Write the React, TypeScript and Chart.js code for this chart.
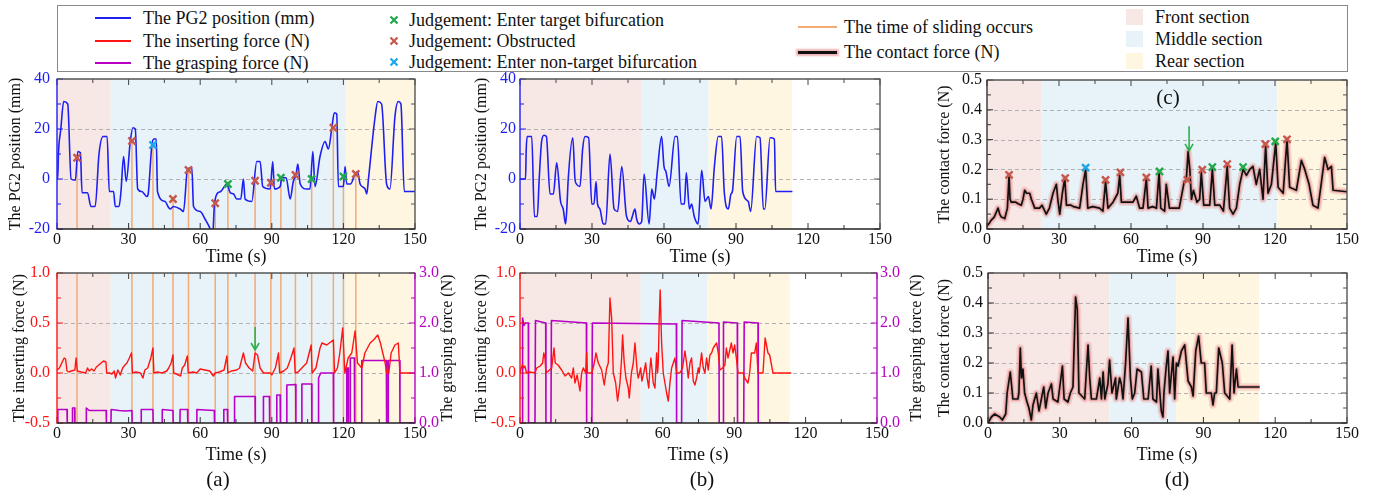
import React, { useEffect, useRef } from "react";
import { Chart, registerables } from "chart.js";
Chart.register(...registerables);

const W = 1375;
const H = 496;
const FONT = "'Liberation Serif','Times New Roman',Times,serif";
Chart.defaults.font.family = FONT;
Chart.defaults.font.size = 16;
Chart.defaults.color = "#111";

type P = [number, number][];

const C = {
  blue: "#1f1ff2",
  red: "#ff1414",
  magenta: "#b800c6",
  orange: "#f3aa74",
  green: "#22a94c",
  brick: "#c6574b",
  cyan: "#1aa8e8",
  black: "#111111",
  arrow: "#2cb14c",
  front: "rgb(247,232,230)",
  middle: "rgb(231,243,248)",
  rear: "rgb(254,246,225)",
};

// ---------- tick labels ----------
const timeTicks = [0, 30, 60, 90, 120, 150];
const pgTicks = [-20, 0, 20, 40];
const insTicks = [-0.5, 0, 0.5, 1];
const graspTicks = [0, 1, 2, 3];
const contactTicks = [0, 0.1, 0.2, 0.3, 0.4, 0.5];

// ---------- sections ----------
const sectionNames = ["Front section", "Middle section", "Rear section"];
const sectionColors = [C.front, C.middle, C.rear];
const sectionsAC = [0, 22.5, 121, 150];
const sectionsBD = [0, 50.7, 78.6, 113.3];

// ---------- (a) PG2 position ----------
const pgA: P = [[0,0],[0.3,0],[0.6,10],[1.6,20],[2.8,31],[4.5,30],[5.9,0],[7.7,-0.5],[8.7,11],[9.8,10.5],[10.5,-5.5],[12.8,-5.5],[14.2,-11],[16,-11],[17.6,10],[19.3,17],[21,17],[21.9,-5],[23.7,-5],[24.4,-11],[26,-11],[26.8,-5],[27.9,9],[29,-1],[30.7,15],[31.8,20.5],[32.8,20],[33.8,-4],[35.5,-5],[37.7,-7],[38.2,-6],[39.8,14],[40.7,16],[41.6,16],[42.1,-5],[45.3,-9],[46.5,-11],[47.4,-12],[48.8,-11],[51.6,-12],[53,-13],[54.7,4],[56.5,4.5],[57.2,-11],[60,-13],[62,-16],[64.2,-20],[65.2,-23],[65.9,-11],[67,-6],[68.6,-5],[71.2,-2],[72.6,-5.5],[74,-6],[75.3,-8],[77,-8],[78.1,0],[78.8,-8],[81.6,-9],[83.7,7],[85.1,7],[86.2,-3],[89.3,-4],[90.4,7],[91.1,-4],[93.5,-3],[94.2,0.5],[96,0.5],[97.7,-8],[99,-1],[100.2,2],[100.9,6],[101.9,-2],[104.6,-4],[106,-4],[107.2,11],[108.1,-3],[110.2,9],[112.3,15],[113.7,12],[115.1,20],[116.2,26.5],[117.2,26],[117.9,-3],[120,-3],[120.7,5],[121.4,-2],[123,-2],[124.9,2],[125.9,3],[127,-2],[129.1,-4],[129.8,-6],[130.5,0],[133.3,25],[134.4,31],[136,30],[138.1,-2],[139.5,-4],[141.6,25],[143,31],[144.1,30],[145.5,-5],[150,-5]];

const obstructedA: P = [[8.4,8.5],[31.4,15.2],[48.6,-8],[55.1,3.6],[66.3,-9.7],[83,-0.7],[89.6,-1.5],[99.9,1.6],[115.8,20.5],[125.2,2]];
const targetA: P = [[71.6,-2],[93.8,0.5],[106.7,0],[120,1]];
const nonTargetA: P = [[40.2,13.6]];

// ---------- (a) forces ----------
const insA: P = [[0,0.03],[1,0.05],[2,0.1],[3,0.15],[3.6,0.14],[4.2,0.02],[5,0.01],[6,0.02],[7.5,0.03],[8,0.15],[8.5,0.02],[10,0.01],[12,0],[12.8,0.05],[13.5,0.02],[14.5,0.04],[15.5,0.02],[16.5,0.06],[17.5,0.08],[18.5,0.1],[19.5,0.12],[20.5,0.11],[20.8,0],[22,0],[23,-0.01],[24,0.02],[24.5,-0.05],[25.5,0.03],[26.5,-0.02],[27.5,0.05],[28.5,0.08],[29.3,0.1],[30.3,0.15],[31.2,0.2],[31.6,0],[33,0.01],[35,0],[36,-0.05],[36.8,0.03],[38,0.05],[39.3,0.15],[40.2,0.25],[40.6,0],[42,0.01],[44,0],[46,0.02],[46.8,0.05],[47.8,0.1],[48.6,0.18],[48.9,0],[50,-0.01],[51.8,-0.03],[52.5,0.05],[53.5,0.08],[54.6,0.17],[55,0],[57,0.01],[58.5,0],[60,0.04],[62,0.03],[64,0.02],[65.5,-0.03],[66.3,0],[68,0.01],[70,0.03],[71.2,0.17],[71.6,0],[73,0.02],[75.3,0.03],[76.5,0.05],[78.1,0.2],[79,0.1],[80.5,0.05],[82,0.02],[83,0.2],[84,0.18],[85.1,0.05],[86.5,0],[88,0],[89.5,0],[90,-0.02],[91.5,0.05],[92.8,0.2],[93.3,0],[95,0.02],[96.5,0.05],[98,0.15],[99.3,0.25],[99.8,0],[101,0.01],[102.6,0.05],[104.6,0.1],[106.5,0.28],[106.9,0],[108.5,0.05],[110.2,0.25],[111,0.3],[113,0.28],[115.8,0.33],[116.3,0],[117.5,0.05],[118.5,0.2],[119.7,0.45],[120.6,0],[122,0.15],[123.5,0.2],[124.9,0.42],[125.9,0.1],[127.7,0.05],[129,0.2],[131.2,0.3],[132.6,0.33],[134.4,0.38],[135.5,0.3],[137.5,0.1],[138.1,0],[139,0],[140,0.2],[141.6,0.28],[143,0.3],[143.7,0],[150,0]];

const graspA: P = [[0,0],[0.3,0],[0.4,0.27],[4.2,0.27],[4.3,0],[6.3,0],[6.5,0.3],[7.4,0.3],[7.5,0],[12.2,0],[12.3,0.3],[13.5,0.25],[20.6,0.25],[20.7,0],[22.6,0],[22.7,0.27],[26,0.25],[28.5,0.24],[31.4,0.25],[31.5,0],[35.2,0],[35.3,0.27],[40.2,0.27],[40.3,0],[44,0],[44.1,0.27],[48.6,0.25],[48.7,0],[51.5,0],[51.6,0.27],[54.7,0.27],[54.8,0],[58.5,0],[58.6,0.27],[65.9,0.25],[66,0],[69.8,0],[69.9,0.27],[71.4,0.27],[71.5,0],[74.3,0],[74.4,0.53],[83,0.53],[83.1,0],[86.4,0],[86.5,0.53],[89,0.53],[89.1,0],[92,0],[92.1,0.56],[93.5,0.56],[93.6,0],[96.2,0],[96.3,0.76],[100,0.77],[100.1,0],[102.5,0],[102.6,0.78],[106.7,0.78],[106.8,0],[109.4,0],[109.6,0.9],[110.5,1.0],[115.8,1.0],[115.9,0],[121.3,0],[121.4,1.1],[122,1.1],[122.1,0],[122.8,0],[122.9,1.3],[124.6,1.3],[124.7,0],[127.6,0],[127.7,1.25],[138,1.25],[138.1,0],[138.7,0],[138.8,1.25],[143.6,1.25],[143.7,0],[150,0]];

const arrowA = { x: 83, from: 0.46, to: 0.23 };

// ---------- (b) PG2 position ----------
const pgB: P = [[0,0],[2.3,0],[2.6,12],[3,17],[4.9,17],[6,-15],[7.2,-15],[8,0],[9,15],[10,17.5],[11,17],[12.5,-6],[13.9,-6],[15.3,6.5],[16.9,-9],[18,-12],[19,-18],[19.5,-12],[20.1,0],[22,16.5],[22.9,0],[23.5,-2],[25,-3],[26.1,12],[27.1,17],[28.6,16.5],[29.9,-10],[30.8,-10],[31.7,-1],[32.3,-10],[33.3,-12],[34.7,-18],[35.7,-18],[37.5,10],[39.2,-12],[40.7,-13],[42.4,5],[44.4,-15],[46.1,-17],[46.8,-15],[47.9,-12],[48.6,-16],[49.7,-18],[50.7,-17],[51.7,2],[53.8,-18],[54.9,-4],[56,-8],[57.2,3],[59,17],[60,5],[60.8,3],[62.1,-3],[64.6,17],[65.6,17],[67.1,-10],[68.5,-10],[69.3,2.5],[70.6,-12],[71.5,-10],[72.6,-15],[74.2,-18],[75.7,3.5],[77.1,-9],[78.5,-7],[79.6,-12],[81,5],[82.6,17],[84,17],[85.1,-5],[86.8,-12],[87.9,-6],[88.5,-5],[90.3,17],[91.7,17],[92.8,-5],[95.1,-9],[96.1,-13],[98.6,17],[100,16.5],[101.4,-12],[102,-12],[104.2,16.5],[106,16],[106.5,-5],[113.5,-5]];

// ---------- (b) forces ----------
const insB: P = [[0,0],[0.5,0.05],[1,0.08],[1.5,0.05],[2,0.07],[2.8,0],[4,0.01],[6.3,0],[7,0.05],[8.5,0.07],[9.5,0.1],[10,0.2],[10.5,0.15],[10.9,0],[12,0.02],[13.3,0.05],[14.3,0.25],[14.8,0.1],[16,0.08],[17.5,0.03],[18.9,-0.03],[20.3,0],[21.7,-0.05],[22.4,0.05],[23.1,-0.1],[24,-0.02],[25.2,-0.18],[25.9,0],[26.6,0.05],[27.6,0],[28,0.2],[28.3,0],[30.2,0],[31.2,0.1],[31.9,0.2],[32.9,0.1],[34.3,0.03],[35.4,-0.12],[36.4,0.05],[37.1,0.1],[37.8,0.75],[38.5,0.55],[39.2,0],[40.2,-0.1],[41,-0.28],[42,-0.1],[42.7,0.15],[43.1,0.38],[43.8,0.1],[44.5,-0.05],[45.5,-0.15],[45.9,-0.25],[46.8,0],[47.6,0.1],[48.3,0.3],[49.3,0],[49.7,-0.05],[50.7,0.05],[51.2,-0.08],[52,0],[52.8,0.1],[53.4,-0.05],[54.1,-0.15],[54.6,0.05],[55,0.15],[56,-0.1],[56.7,-0.15],[57.4,0.2],[57.8,0],[58.1,0.1],[58.5,0.55],[58.9,0.83],[59.5,0.3],[60.2,0],[60.9,-0.1],[61.6,-0.2],[62.3,-0.28],[63,-0.1],[63.7,0.05],[65.1,0.15],[65.8,0],[67.2,0],[68.3,0.05],[69.3,0.22],[70,0.1],[70.7,-0.05],[71.4,0.1],[72.1,0.15],[72.8,-0.08],[73.5,-0.12],[74.2,-0.05],[74.9,0.05],[75.3,0],[76.3,0.2],[77,0.05],[77.7,0],[78.4,0.15],[79.1,0.03],[79.8,0.18],[80.5,0.2],[81.2,0.25],[82.6,0.3],[83.3,0.2],[84,0.03],[85.1,0.05],[86.1,0.08],[86.7,0.25],[87.4,0.15],[88.8,0.3],[89.5,0.2],[90.2,0.28],[90.9,0.15],[91.6,0],[93.7,0],[94.4,-0.05],[95.8,-0.1],[96.5,0],[97.2,0.2],[98.6,0.2],[99.3,0.3],[100,0],[102.1,0],[103,0.35],[104.2,0.2],[104.9,0.18],[106.3,0],[114,0]];

const graspB: P = [[0,0],[1,0],[1.1,2.1],[1.6,1.95],[2.2,2.0],[3.5,2.0],[3.6,0],[6.3,0],[6.5,2.05],[10.8,2.0],[10.9,0],[13,0],[13.2,2.05],[27.9,2.0],[28,0],[30.2,0],[30.4,2.0],[65.7,1.98],[65.8,0],[67.9,0],[68.1,2.05],[83.6,2.0],[83.7,0],[85.3,0],[85.5,2.02],[91.3,2.0],[91.4,0],[94,0],[94.2,2.02],[100,2.0],[100.1,0],[113,0]];

// ---------- (c) contact force ----------
const contactC: P = [[0,0.01],[1,0.02],[1.8,0.03],[3,0.04],[4.6,0.07],[5.3,0.05],[6,0.04],[7.4,0.035],[8.5,0.07],[9.2,0.18],[9.6,0.1],[10.1,0.09],[12,0.09],[13,0.085],[14.3,0.08],[15,0.1],[15.7,0.13],[16.5,0.12],[17.8,0.12],[18.5,0.1],[19.9,0.07],[21.9,0.07],[22.9,0.08],[23.5,0.07],[24.7,0.05],[26,0.07],[27.5,0.12],[28.9,0.15],[29.5,0.1],[30.3,0.05],[31.4,0.12],[32.4,0.17],[33.1,0.08],[35,0.08],[36,0.075],[38.6,0.07],[40,0.15],[41.1,0.2],[42,0.07],[44,0.075],[46.9,0.07],[48.3,0.06],[49.4,0.16],[50.4,0.07],[52.5,0.09],[54.5,0.12],[55.3,0.18],[56,0.09],[58,0.09],[60.8,0.09],[62.2,0.11],[63.6,0.07],[65,0.07],[66.4,0.17],[67.1,0.07],[69,0.075],[70.6,0.07],[71.7,0.19],[72.4,0.07],[74,0.06],[74.7,0.15],[76,0.07],[78,0.07],[80.1,0.07],[82.2,0.16],[83,0.16],[83.8,0.26],[84.5,0.2],[85.2,0.1],[86,0.13],[87.5,0.09],[88.6,0.1],[89.3,0.19],[90.3,0.08],[92.8,0.08],[93.9,0.2],[94.9,0.08],[97,0.08],[98.5,0.06],[100.1,0.21],[101.1,0.07],[102.5,0.05],[103.9,0.07],[105.3,0.15],[106.7,0.2],[108.1,0.18],[109.5,0.2],[110.8,0.21],[112.2,0.15],[113.6,0.2],[115,0.1],[116.1,0.28],[117.1,0.12],[118.5,0.15],[120.3,0.29],[121.3,0.14],[123.4,0.12],[125,0.3],[126.1,0.14],[128.9,0.13],[131,0.23],[132.4,0.2],[134.2,0.15],[135.8,0.08],[137.9,0.07],[138.9,0.13],[140.7,0.24],[142.1,0.2],[143.5,0.21],[144.2,0.13],[150,0.125]];

const obstructedC: P = [[9.2,0.182],[32.6,0.171],[49.4,0.165],[55.6,0.19],[66.4,0.173],[83.5,0.165],[89.7,0.199],[100.1,0.218],[116,0.285],[125,0.301]];
const targetC: P = [[71.9,0.193],[93.9,0.208],[106.7,0.208],[120.1,0.294]];
const nonTargetC: P = [[41.1,0.206]];
const arrowC = { x: 84.2, from: 0.345, to: 0.262 };

// ---------- (d) contact force ----------
const contactD: P = [[0,0],[1.4,0.02],[2.8,0.03],[4.9,0.02],[6,0.01],[7.4,0.03],[8,0.1],[9.3,0.17],[10.4,0.08],[12.5,0.08],[12.9,0.1],[13.5,0.25],[14,0.15],[14.6,0.18],[15.3,0.1],[16.3,0.07],[17.1,0.05],[18.1,0.01],[18.8,0.06],[20.2,0.1],[21.3,0.04],[22.3,0.08],[23.3,0.12],[24.1,0.05],[25.1,0.1],[26.5,0.13],[27.2,0.08],[29.2,0.07],[31.1,0.19],[31.8,0.08],[33.4,0.07],[34.4,0.1],[35.5,0.12],[36.6,0.42],[37.3,0.38],[38,0.1],[40.4,0.08],[41.8,0.26],[42.5,0.15],[43.2,0.08],[45.3,0.08],[46.7,0.15],[47.4,0.08],[48.1,0.17],[48.8,0.08],[50.1,0.13],[50.8,0.21],[51.8,0.1],[53.3,0.15],[53.6,0.08],[55,0.15],[55.7,0.13],[56.4,0.08],[57.5,0.2],[58.5,0.35],[59.5,0.15],[60.3,0.08],[61.3,0.1],[62.3,0.18],[64.1,0.17],[65.1,0.08],[66.9,0.08],[68.2,0.19],[68.9,0.08],[70.4,0.07],[71,0.18],[72.4,0.04],[73.1,0.02],[73.5,0.1],[74.5,0.19],[75.2,0.24],[75.9,0.1],[77.3,0.22],[78,0.08],[78.7,0.2],[79.4,0.19],[80.8,0.24],[82.2,0.26],[83.6,0.14],[85,0.12],[85.7,0.09],[86.8,0.24],[88,0.29],[89.1,0.2],[90.5,0.2],[91.2,0.1],[93.3,0.1],[94,0.06],[94.7,0.1],[95.4,0.1],[96.4,0.25],[97.9,0.2],[98.9,0.1],[101,0.08],[102,0.26],[102.8,0.1],[103.8,0.18],[104.5,0.12],[113.5,0.12]];

// ---------- helpers ----------
const pts = (p: P) => p.map(([x, y]) => ({ x, y }));
const line = (p: P, color: string, width: number, yAxisID = "y", smooth = false) => ({
  type: "line",
  data: pts(p),
  borderColor: color,
  borderWidth: width,
  pointRadius: 0,
  tension: smooth ? 0.4 : 0,
  cubicInterpolationMode: smooth ? "monotone" : "default",
  yAxisID,
  borderJoinStyle: "round",
});
const marks = (p: P, color: string) => ({
  type: "line",
  data: pts(p),
  showLine: false,
  pointStyle: "crossRot",
  pointRadius: 5,
  borderColor: color,
  backgroundColor: color,
  pointBorderWidth: 2.4,
  borderWidth: 2.4,
});
const glowSet = (p: P) => [
  line(p, C.black, 1.7),
  line(p, "rgba(226,128,128,0.55)", 4.2),
  line(p, "rgba(236,160,160,0.35)", 7.5),
];

type Axis = { ticks: number[]; color: string; pad: number; fmt: (v: number) => string };
type Txt = { text: string; x: number; y: number; size?: number; rot?: boolean; color?: string };
type Spec = {
  area: { l: number; t: number; r: number; b: number };
  yl: Axis;
  yr?: Axis;
  sections: number[];
  datasets: any[];
  stems?: P;
  full?: number[];
  arrows?: { x: number; from: number; to: number }[];
  texts: Txt[];
};

const panelPlugin = {
  id: "panel",
  beforeDraw(chart: any) {
    const o = chart.options.plugins.panel;
    const { ctx, chartArea: a } = chart;
    const x = chart.scales.x;
    const y = chart.scales.y;
    ctx.save();
    ctx.beginPath();
    ctx.rect(a.left, a.top, a.right - a.left, a.bottom - a.top);
    ctx.clip();
    for (let i = 0; i < o.sections.length - 1; i++) {
      const x0 = x.getPixelForValue(o.sections[i]);
      const x1 = x.getPixelForValue(o.sections[i + 1]);
      ctx.fillStyle = sectionColors[i];
      ctx.fillRect(x0, a.top, x1 - x0, a.bottom - a.top);
    }
    ctx.setLineDash([4, 3]);
    ctx.strokeStyle = "#a9a9a9";
    ctx.lineWidth = 0.9;
    y.ticks.forEach((t: any) => {
      if (t.value > y.min + 1e-9 && t.value < y.max - 1e-9) {
        const py = Math.round(y.getPixelForValue(t.value)) + 0.5;
        ctx.beginPath();
        ctx.moveTo(a.left, py);
        ctx.lineTo(a.right, py);
        ctx.stroke();
      }
    });
    ctx.setLineDash([]);
    ctx.strokeStyle = C.orange;
    ctx.lineWidth = 1.5;
    (o.stems || []).forEach(([t, v]: [number, number]) => {
      const px = x.getPixelForValue(t);
      ctx.beginPath();
      ctx.moveTo(px, a.bottom);
      ctx.lineTo(px, y.getPixelForValue(v));
      ctx.stroke();
    });
    (o.full || []).forEach((t: number) => {
      const px = x.getPixelForValue(t);
      ctx.beginPath();
      ctx.moveTo(px, a.bottom);
      ctx.lineTo(px, a.top);
      ctx.stroke();
    });
    ctx.restore();
  },
  afterDraw(chart: any) {
    const o = chart.options.plugins.panel;
    const { ctx, chartArea: a } = chart;
    const x = chart.scales.x;
    const y = chart.scales.y;
    const y2 = chart.scales.y2;
    ctx.save();
    ctx.strokeStyle = C.arrow;
    ctx.lineWidth = 1.6;
    (o.arrows || []).forEach((ar: any) => {
      const px = x.getPixelForValue(ar.x);
      const p0 = y.getPixelForValue(ar.from);
      const p1 = y.getPixelForValue(ar.to);
      ctx.beginPath();
      ctx.moveTo(px, p0);
      ctx.lineTo(px, p1);
      ctx.moveTo(px - 4, p1 - 7);
      ctx.lineTo(px, p1);
      ctx.lineTo(px + 4, p1 - 7);
      ctx.stroke();
    });
    const seg = (x0: number, y0: number, x1: number, y1: number, col: string, w: number) => {
      ctx.strokeStyle = col;
      ctx.lineWidth = w;
      ctx.beginPath();
      ctx.moveTo(x0, y0);
      ctx.lineTo(x1, y1);
      ctx.stroke();
    };
    const L = a.left, R = a.right, T = a.top, B = a.bottom;
    const leftCol = o.leftColor;
    const rightCol = o.rightColor;
    const tickSet = (scale: any, cb: (p: number, len: number) => void) => {
      const vals = scale.ticks.map((t: any) => t.value);
      vals.forEach((v: number, i: number) => {
        cb(scale.getPixelForValue(v), 6);
        if (i < vals.length - 1) cb(scale.getPixelForValue((v + vals[i + 1]) / 2), 4);
      });
    };
    tickSet(x, (p, len) => {
      seg(p, B, p, B - len, "#333", 1);
      seg(p, T, p, T + len, "#444", 1);
    });
    tickSet(y, (p, len) => seg(L, p, L + len, p, leftCol, 1));
    tickSet(y2 || y, (p, len) => seg(R, p, R - len, p, rightCol, 1));
    seg(L - 0.5, T, R + 0.5, T, "#555", 1.5);
    seg(L - 0.5, B, R + 0.5, B, "#222", 1.3);
    seg(L, T, L, B, leftCol, 1.4);
    seg(R, T, R, B, rightCol, 1.4);
    (o.texts || []).forEach((t: Txt) => {
      ctx.save();
      ctx.font = `${t.size || 16}px ${FONT}`;
      ctx.fillStyle = t.color || "#111";
      ctx.textAlign = "center";
      ctx.textBaseline = "middle";
      ctx.translate(t.x, t.y);
      if (t.rot) ctx.rotate(-Math.PI / 2);
      ctx.fillText(t.text, 0, 0);
      ctx.restore();
    });
    ctx.restore();
  },
};

function yScale(ax: Axis, position: "left" | "right", width: number) {
  return {
    type: "linear",
    position,
    min: ax.ticks[0],
    max: ax.ticks[ax.ticks.length - 1],
    afterBuildTicks: (s: any) => {
      s.ticks = ax.ticks.map((v) => ({ value: v }));
    },
    afterFit: (s: any) => {
      s.width = width;
    },
    grid: { display: false, drawTicks: false },
    border: { display: false },
    ticks: { color: ax.color, padding: ax.pad, font: { size: 16 }, autoSkip: false, callback: (v: number) => ax.fmt(v) },
  };
}

function buildConfig(s: Spec): any {
  const Wl = 50;
  const Wr = s.yr ? 50 : 0;
  const Hx = 30;
  const scales: any = {
    x: {
      type: "linear",
      min: timeTicks[0],
      max: timeTicks[timeTicks.length - 1],
      afterBuildTicks: (sc: any) => {
        sc.ticks = timeTicks.map((v) => ({ value: v }));
      },
      afterFit: (sc: any) => {
        sc.height = Hx;
      },
      grid: { display: false, drawTicks: false },
      border: { display: false },
      ticks: { color: "#111", padding: 1, font: { size: 16 }, maxRotation: 0, autoSkip: false, callback: (v: number) => String(v) },
    },
    y: yScale(s.yl, "left", Wl),
  };
  if (s.yr) scales.y2 = yScale(s.yr, "right", Wr);
  return {
    type: "line",
    data: { datasets: s.datasets },
    options: {
      animation: false,
      responsive: false,
      devicePixelRatio: 1,
      events: [],
      layout: {
        padding: { left: s.area.l - Wl, top: s.area.t, right: W - s.area.r - Wr, bottom: H - s.area.b - Hx },
      },
      scales,
      plugins: {
        legend: { display: false },
        tooltip: { enabled: false },
        panel: {
          sections: s.sections,
          stems: s.stems,
          full: s.full,
          arrows: s.arrows,
          texts: s.texts,
          leftColor: s.yl.color === "#111" ? "#333" : s.yl.color,
          rightColor: s.yr ? s.yr.color : "#555",
        },
      },
    },
    plugins: [panelPlugin],
  };
}

const f0 = (v: number) => String(Math.round(v));
const f1 = (v: number) => v.toFixed(1);
const allMarksA = [...obstructedA, ...targetA, ...nonTargetA];
const slideTimes = allMarksA.map((p) => p[0]);

const specs: Spec[] = [
  {
    area: { l: 57, t: 79, r: 415, b: 229 },
    yl: { ticks: pgTicks, color: C.blue, pad: 7, fmt: f0 },
    sections: sectionsAC,
    stems: allMarksA,
    datasets: [marks(obstructedA, C.brick), marks(targetA, C.green), marks(nonTargetA, C.cyan), line(pgA, C.blue, 1.6, "y", true)],
    texts: [
      { text: "The PG2 position (mm)", x: 16, y: 154, rot: true },
      { text: "Time (s)", x: 236, y: 257, size: 18 },
    ],
  },
  {
    area: { l: 520, t: 79, r: 880, b: 229 },
    yl: { ticks: pgTicks, color: C.blue, pad: 4, fmt: f0 },
    sections: sectionsBD,
    datasets: [line(pgB, C.blue, 1.6, "y", true)],
    texts: [
      { text: "The PG2 position (mm)", x: 482, y: 154, rot: true },
      { text: "Time (s)", x: 700, y: 257, size: 18 },
    ],
  },
  {
    area: { l: 987, t: 80, r: 1347, b: 229 },
    yl: { ticks: contactTicks, color: "#111", pad: 5, fmt: f1 },
    sections: sectionsAC,
    arrows: [arrowC],
    datasets: [marks(obstructedC, C.brick), marks(targetC, C.green), marks(nonTargetC, C.cyan), ...glowSet(contactC)],
    texts: [
      { text: "The contact force (N)", x: 945, y: 154.5, rot: true },
      { text: "Time (s)", x: 1167, y: 257, size: 18 },
      { text: "(c)", x: 1168, y: 98, size: 21 },
    ],
  },
  {
    area: { l: 57, t: 273, r: 415, b: 423 },
    yl: { ticks: insTicks, color: C.red, pad: 7, fmt: f1 },
    yr: { ticks: graspTicks, color: C.magenta, pad: 4, fmt: f1 },
    sections: sectionsAC,
    full: slideTimes,
    arrows: [arrowA],
    datasets: [line(insA, C.red, 1.4), line(graspA, C.magenta, 1.6, "y2")],
    texts: [
      { text: "The inserting force (N)", x: 20, y: 348, rot: true },
      { text: "The grasping force (N)", x: 448, y: 348, rot: true },
      { text: "Time (s)", x: 236, y: 455, size: 18 },
      { text: "(a)", x: 218, y: 480, size: 21 },
    ],
  },
  {
    area: { l: 520, t: 273, r: 877, b: 423 },
    yl: { ticks: insTicks, color: C.red, pad: 4, fmt: f1 },
    yr: { ticks: graspTicks, color: C.magenta, pad: 3, fmt: f1 },
    sections: sectionsBD,
    datasets: [line(insB, C.red, 1.4), line(graspB, C.magenta, 1.6, "y2")],
    texts: [
      { text: "The inserting force (N)", x: 482, y: 348, rot: true },
      { text: "The grasping force (N)", x: 917, y: 348, rot: true },
      { text: "Time (s)", x: 698, y: 455, size: 18 },
      { text: "(b)", x: 702, y: 480, size: 21 },
    ],
  },
  {
    area: { l: 988, t: 273, r: 1347, b: 423 },
    yl: { ticks: contactTicks, color: "#111", pad: 5, fmt: f1 },
    sections: sectionsBD,
    datasets: [...glowSet(contactD)],
    texts: [
      { text: "The contact force (N)", x: 945, y: 348, rot: true },
      { text: "Time (s)", x: 1167, y: 455, size: 18 },
      { text: "(d)", x: 1177, y: 480, size: 21 },
    ],
  },
];

function Panel({ spec }: { spec: Spec }) {
  const ref = useRef<HTMLCanvasElement>(null);
  useEffect(() => {
    const chart = new Chart(ref.current as HTMLCanvasElement, buildConfig(spec));
    return () => chart.destroy();
  }, [spec]);
  return <canvas ref={ref} width={W} height={H} style={{ position: "absolute", left: 0, top: 0, width: W, height: H }} />;
}

const legendLines = [
  { label: "The PG2 position (mm)", color: C.blue, y: 18 },
  { label: "The inserting force (N)", color: C.red, y: 41 },
  { label: "The grasping force (N)", color: C.magenta, y: 63 },
];
const legendMarks = [
  { label: "Judgement: Enter target bifurcation", color: C.green, y: 19.5 },
  { label: "Judgement: Obstructed", color: C.brick, y: 41 },
  { label: "Judgement: Enter non-target bifurcation", color: C.cyan, y: 62 },
];
const legendSections = [17.3, 39.3, 60.7];

const txtStyle = (x: number, y: number): React.CSSProperties => ({
  position: "absolute",
  left: x,
  top: y - 11,
  height: 22,
  lineHeight: "22px",
  fontSize: 18,
  fontFamily: FONT,
  color: "#111",
  whiteSpace: "nowrap",
});

function Legend() {
  return (
    <>
      <div style={{ position: "absolute", left: 57, top: 5, width: 1291, height: 67, border: "1px solid #8a8a8a", boxSizing: "border-box", background: "#fff" }} />
      {legendLines.map((l) => (
        <React.Fragment key={l.label}>
          <div style={{ position: "absolute", left: 95, top: l.y - 1, width: 36, height: 2, background: l.color }} />
          <div style={txtStyle(143, l.y)}>{l.label}</div>
        </React.Fragment>
      ))}
      {legendMarks.map((m) => (
        <React.Fragment key={m.label}>
          <svg style={{ position: "absolute", left: 389, top: m.y - 5 }} width={10} height={10}>
            <path d="M1.5 1.5L8.5 8.5M8.5 1.5L1.5 8.5" stroke={m.color} strokeWidth={2.2} />
          </svg>
          <div style={txtStyle(409, m.y)}>{m.label}</div>
        </React.Fragment>
      ))}
      <div style={{ position: "absolute", left: 798, top: 26, width: 39, height: 2, background: C.orange }} />
      <div style={txtStyle(844, 27)}>The time of sliding occurs</div>
      <div style={{ position: "absolute", left: 798, top: 50.5, width: 39, height: 3, background: "#111", boxShadow: "0 0 2px 2px rgba(226,128,128,0.6)" }} />
      <div style={txtStyle(844, 52)}>The contact force (N)</div>
      {sectionNames.map((n, i) => (
        <React.Fragment key={n}>
          <div style={{ position: "absolute", left: 1126, top: legendSections[i] - 8, width: 17, height: 16, background: sectionColors[i] }} />
          <div style={txtStyle(1155, legendSections[i])}>{n}</div>
        </React.Fragment>
      ))}
    </>
  );
}

export default function App() {
  return (
    <div style={{ position: "absolute", left: 0, top: 0, width: W, height: H, background: "#fff", overflow: "hidden" }}>
      <Legend />
      {specs.map((s, i) => (
        <Panel key={i} spec={s} />
      ))}
    </div>
  );
}
